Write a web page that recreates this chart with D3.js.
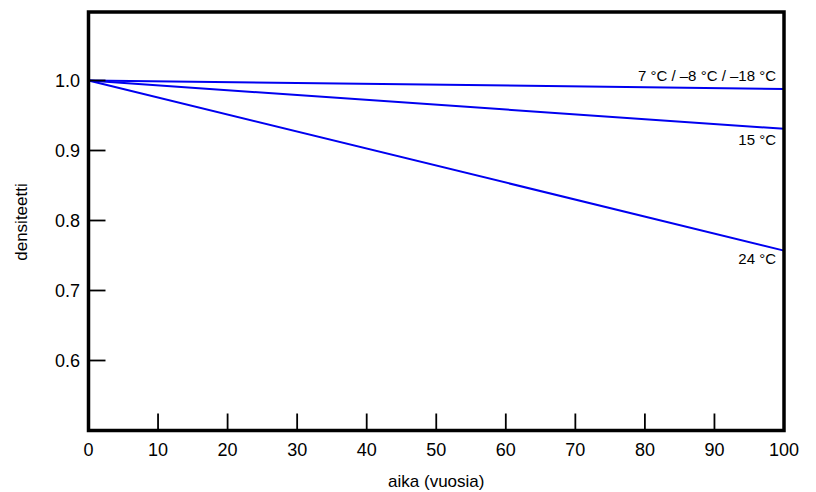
<!DOCTYPE html>
<html><head><meta charset="utf-8">
<script src="https://cdn.jsdelivr.net/npm/d3@7"></script>
<style>body{margin:0;background:#fff}svg{display:block}text{font-family:"Liberation Sans",Arial,Helvetica,sans-serif;fill:#000}</style>
</head><body><svg id="c" width="816" height="492"></svg>
<script>
const years = [0, 100];
const seriesLabels = ["7 °C / –8 °C / –18 °C", "15 °C", "24 °C"];
const series7 = [1.0, 0.988];
const series15 = [1.0, 0.931];
const series24 = [1.0, 0.757];
const xTicks = [0,10,20,30,40,50,60,70,80,90,100];
const yTicks = [0.6,0.7,0.8,0.9,1.0];
const xTitle = "aika (vuosia)";
const yTitle = "densiteetti";

const svg = d3.select("#c");
const x = d3.scaleLinear().domain([0,100]).range([88.5,784]);
const y = d3.scaleLinear().domain([0.5,1.1]).range([430.5,10.5]);

const allSeries = [series7, series15, series24];
const line = d3.line().x((d,i)=>x(years[i])).y(d=>y(d));
svg.selectAll("path.s").data(allSeries).enter().append("path")
  .attr("d", line).attr("fill","none").attr("stroke","#0000f0").attr("stroke-width",2);

svg.selectAll("line.yt").data(yTicks).enter().append("line")
  .attr("x1", x(0)).attr("x2", x(0)+17).attr("y1", d=>y(d)).attr("y2", d=>y(d))
  .attr("stroke","#000").attr("stroke-width",1.8);
svg.selectAll("line.xt").data(xTicks.slice(1,-1)).enter().append("line")
  .attr("x1", d=>x(d)).attr("x2", d=>x(d)).attr("y1", y(0.5)).attr("y2", y(0.5)-17)
  .attr("stroke","#000").attr("stroke-width",1.8);

svg.append("rect").attr("x", x(0)).attr("y", 12).attr("width", x(100)-x(0)).attr("height", y(0.5)-12)
  .attr("fill","none").attr("stroke","#000").attr("stroke-width",3.5);

svg.selectAll("text.yl").data(yTicks).enter().append("text")
  .attr("x", 80).attr("y", d=>y(d)).attr("dy","0.36em").attr("text-anchor","end")
  .attr("font-size",18).text(d=>d.toFixed(1));
svg.selectAll("text.xl").data(xTicks).enter().append("text")
  .attr("x", d=>x(d)).attr("y", 455.5).attr("text-anchor","middle")
  .attr("font-size",18).text(d=>d);

svg.append("text").attr("x", (x(0)+x(100))/2).attr("y", 487).attr("text-anchor","middle")
  .attr("font-size",17).text(xTitle);
svg.append("text").attr("transform","translate(27,222) rotate(-90)").attr("text-anchor","middle")
  .attr("font-size",17).text(yTitle);

const lblY = [80.5, 145, 264];
svg.selectAll("text.sl").data(seriesLabels).enter().append("text")
  .attr("x", 776).attr("y", (d,i)=>lblY[i]).attr("text-anchor","end")
  .attr("font-size",15).text(d=>d);
</script></body></html>
